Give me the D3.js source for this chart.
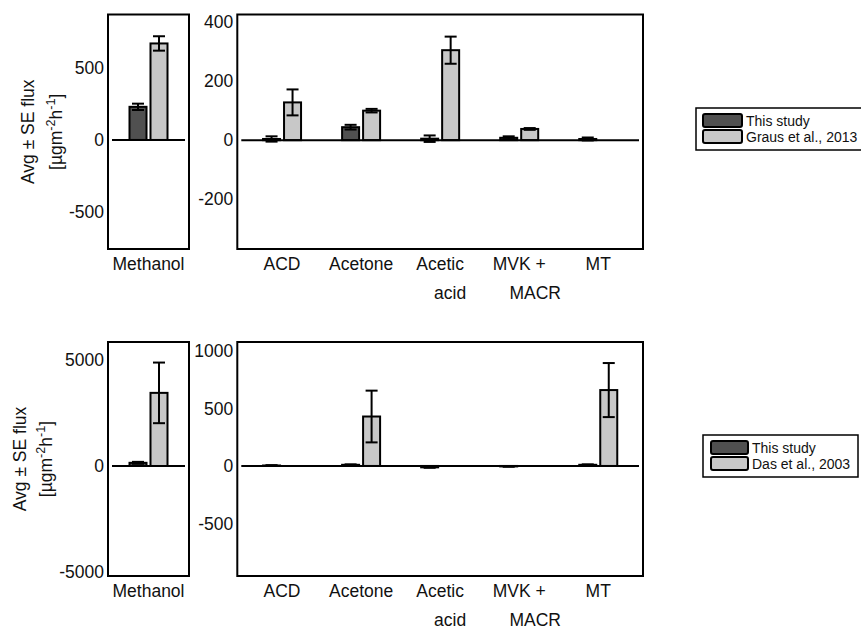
<!DOCTYPE html>
<html><head><meta charset="utf-8">
<script src="https://cdn.jsdelivr.net/npm/d3@7"></script>
<style>
body{margin:0;background:#fff}
svg{display:block}
text{font-family:"Liberation Sans",Arial,Helvetica,sans-serif;fill:#111}
</style>
</head><body>
<svg id="chart" width="861" height="630"></svg>
<script>
// ---------------- DATA ----------------
const methanolCategory = ["Methanol"];
const categories = ["ACD", "Acetone", "Acetic\nacid", "MVK +\nMACR", "MT"];

// Top row: This study vs Graus et al., 2013
const topSeriesNames = ["This study", "Graus et al., 2013"];
const topMethanolThisStudy = [230];
const topMethanolThisStudySE = [22];
const topMethanolGraus = [670];
const topMethanolGrausSE = [50];
const topThisStudy = [4, 44, 5, 8, 4];
const topThisStudySE = [9, 8, 11, 5, 5];
const topGraus = [128, 100, 305, 38, null];
const topGrausSE = [44, 6, 46, 3, null];

// Bottom row: This study vs Das et al., 2003
const bottomSeriesNames = ["This study", "Das et al., 2003"];
const bottomMethanolThisStudy = [150];
const bottomMethanolThisStudySE = [45];
const bottomMethanolDas = [3450];
const bottomMethanolDasSE = [1430];
const bottomThisStudy = [4, 10, -12, -4, 10];
const bottomThisStudySE = [3, 4, 4, 3, 4];
const bottomDas = [null, 430, null, null, 660];
const bottomDasSE = [null, 225, null, null, 235];

// Axis limits and tick labels
const topMethanolDomain = [-757, 871];
const topDomain = [-369, 426];
const bottomMethanolDomain = [-5190, 5850];
const bottomDomain = [-957, 1078];
const topMethanolTicks = [-500, 0, 500];
const topTicks = [-200, 0, 200, 400];
const bottomMethanolTicks = [-5000, 0, 5000];
const bottomTicks = [-500, 0, 500, 1000];

// ---------------- STYLE / LAYOUT ----------------
const colorThis = "#505050";
const colorOther = "#c8c8c8";
const fontSize = 17.5;
const legendFont = 14;
const leftPanelX = [108, 189];
const rightPanelX = [237.3, 643];
const rowsY = [[14.5, 249], [342, 576]];
const secondLineDx = {"acid": 10, "MACR": 16};

const svg = d3.select("#chart");

function drawPanel(cats, xr, yr, domain, ticks, thisVals, thisSE, otherVals, otherSE, padding) {
  const g = svg.append("g");
  const x = d3.scalePoint().domain(cats).range(xr).padding(padding);
  const sub = d3.scaleBand().domain(["this", "other"]).range([-19, 19]).paddingInner(0.19);
  const y = d3.scaleLinear().domain(domain).range([yr[1], yr[0]]);

  const rows = [];
  cats.forEach((c, i) => {
    if (thisVals[i] != null) rows.push({c, key: "this", v: thisVals[i], se: thisSE[i], fill: colorThis});
    if (otherVals[i] != null) rows.push({c, key: "other", v: otherVals[i], se: otherSE[i], fill: colorOther});
  });

  // bars
  g.selectAll("rect.bar").data(rows).join("rect")
    .attr("class", "bar")
    .attr("x", d => x(d.c) + sub(d.key))
    .attr("width", sub.bandwidth())
    .attr("y", d => Math.min(y(d.v), y(0)))
    .attr("height", d => Math.abs(y(d.v) - y(0)))
    .attr("fill", d => d.fill)
    .attr("stroke", "#000").attr("stroke-width", 2);

  // zero baseline
  g.append("line")
    .attr("x1", xr[0] + 4).attr("x2", xr[1] - 4)
    .attr("y1", y(0)).attr("y2", y(0))
    .attr("stroke", "#000").attr("stroke-width", 2);

  // error bars
  const capW = 6;
  const eb = g.selectAll("g.err").data(rows).join("g").attr("class", "err")
    .attr("transform", d => `translate(${x(d.c) + sub(d.key) + sub.bandwidth() / 2},0)`);
  eb.append("line").attr("x1", 0).attr("x2", 0)
    .attr("y1", d => y(d.v - d.se)).attr("y2", d => y(d.v + d.se))
    .attr("stroke", "#000").attr("stroke-width", 2);
  eb.append("line").attr("x1", -capW).attr("x2", capW)
    .attr("y1", d => y(d.v + d.se)).attr("y2", d => y(d.v + d.se))
    .attr("stroke", "#000").attr("stroke-width", 2);
  eb.append("line").attr("x1", -capW).attr("x2", capW)
    .attr("y1", d => y(d.v - d.se)).attr("y2", d => y(d.v - d.se))
    .attr("stroke", "#000").attr("stroke-width", 2);

  // frame
  g.append("rect").attr("x", xr[0]).attr("y", yr[0])
    .attr("width", xr[1] - xr[0]).attr("height", yr[1] - yr[0])
    .attr("fill", "none").attr("stroke", "#000").attr("stroke-width", 2);

  // y axis labels
  const ya = g.append("g").attr("transform", `translate(${xr[0]},0)`)
    .call(d3.axisLeft(y).tickValues(ticks).tickSize(0).tickPadding(4).tickFormat(d => String(d)));
  ya.select(".domain").remove();
  ya.selectAll("text").attr("font-size", fontSize).attr("font-family", null).style("fill", "#111");

  // category labels
  const lab = g.selectAll("text.cat").data(cats).join("text")
    .attr("class", "cat")
    .attr("x", d => x(d)).attr("y", yr[1] + 21)
    .attr("text-anchor", "middle").attr("font-size", fontSize);
  lab.each(function (d) {
    const lines = d.split("\n");
    const t = d3.select(this);
    lines.forEach((ln, k) => {
      t.append("tspan").attr("x", x(d) + (k > 0 ? (secondLineDx[ln] || 0) : 0))
        .attr("dy", k === 0 ? 0 : 29).text(ln);
    });
  });
  return g;
}

function drawYLabel(cx1, cx2, cy) {
  const g = svg.append("g");
  g.append("text").attr("transform", `translate(${cx1},${cy}) rotate(-90)`)
    .attr("text-anchor", "middle").attr("font-size", fontSize).text("Avg \u00b1 SE flux");
  const t = g.append("text").attr("transform", `translate(${cx2},${cy}) rotate(-90)`)
    .attr("text-anchor", "middle").attr("font-size", fontSize);
  t.append("tspan").text("[\u00b5gm");
  t.append("tspan").attr("font-size", fontSize * 0.72).attr("dy", -7).text("-2");
  t.append("tspan").attr("dy", 7).text("h");
  t.append("tspan").attr("font-size", fontSize * 0.72).attr("dy", -7).text("-1");
  t.append("tspan").attr("dy", 7).text("]");
}

function drawLegend(x0, y0, w, h, names, swX, swW, swY, rowH) {
  const g = svg.append("g");
  g.append("rect").attr("x", x0).attr("y", y0).attr("width", w).attr("height", h)
    .attr("fill", "#fff").attr("stroke", "#000").attr("stroke-width", 1.5);
  const it = g.selectAll("g.item").data(names).join("g").attr("class", "item")
    .attr("transform", (d, i) => `translate(0,${swY + i * rowH})`);
  it.append("rect").attr("x", swX).attr("y", 0).attr("width", swW).attr("height", rowH - 3)
    .attr("rx", 2).attr("fill", (d, i) => i === 0 ? colorThis : colorOther)
    .attr("stroke", "#000").attr("stroke-width", 2);
  it.append("text").attr("x", swX + swW + 4).attr("y", rowH / 2 + 4)
    .attr("font-size", legendFont).text(d => d);
}

// Top row
drawPanel(methanolCategory, leftPanelX, rowsY[0], topMethanolDomain, topMethanolTicks,
  topMethanolThisStudy, topMethanolThisStudySE, topMethanolGraus, topMethanolGrausSE, 0.5);
drawPanel(categories, rightPanelX, rowsY[0], topDomain, topTicks,
  topThisStudy, topThisStudySE, topGraus, topGrausSE, 0.566);
drawYLabel(34, 62, (rowsY[0][0] + rowsY[0][1]) / 2);
drawLegend(696, 108, 180, 42, topSeriesNames, 703, 39, 114, 16);

// Bottom row
drawPanel(methanolCategory, leftPanelX, rowsY[1], bottomMethanolDomain, bottomMethanolTicks,
  bottomMethanolThisStudy, bottomMethanolThisStudySE, bottomMethanolDas, bottomMethanolDasSE, 0.5);
drawPanel(categories, rightPanelX, rowsY[1], bottomDomain, bottomTicks,
  bottomThisStudy, bottomThisStudySE, bottomDas, bottomDasSE, 0.566);
drawYLabel(26, 52, (rowsY[1][0] + rowsY[1][1]) / 2);
drawLegend(703, 435, 155, 42, bottomSeriesNames, 711, 37, 441, 16);
</script>
</body></html>
